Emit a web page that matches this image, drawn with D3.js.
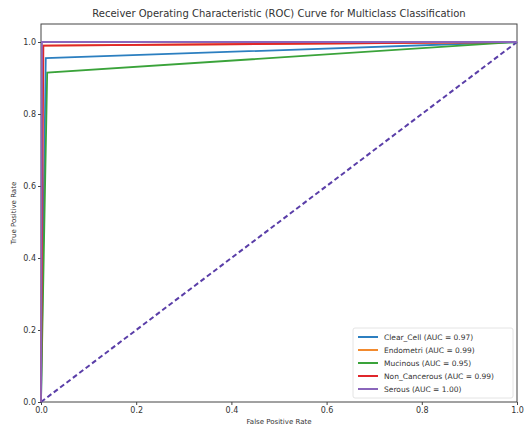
<!DOCTYPE html>
<html>
<head>
<meta charset="utf-8">
<script src="https://cdn.jsdelivr.net/npm/d3@7"></script>
<style>
  body { margin: 0; background: #fff; }
  text { font-family: "DejaVu Sans", sans-serif; fill: #333; }
</style>
</head>
<body>
<div id="chart"></div>
<script>
    var width = 524,
      height = 430,
      margin = {top: 24, bottom: 28, left: 41, right: 7};

    // ROC points per class (false positive rate, true positive rate)
    var classNames = ["Clear_Cell", "Endometri", "Mucinous", "Non_Cancerous", "Serous"];
    var aucValues = ["0.97", "0.99", "0.95", "0.99", "1.00"];
    var fprValues = [
      [0, 0.01, 1],
      [0, 0.003, 1],
      [0, 0.013, 1],
      [0, 0.005, 1],
      [0, 0.002, 1]
    ];
    var tprValues = [
      [0, 0.955, 1],
      [0, 0.99, 1],
      [0, 0.915, 1],
      [0, 0.99, 1],
      [0, 1.0, 1]
    ];
    var xTicks = [0, 0.2, 0.4, 0.6, 0.8, 1.0];
    var yTicks = [0, 0.2, 0.4, 0.6, 0.8, 1.0];

    var color = d3.scaleOrdinal()
      .domain(classNames)
      .range(['#2c7fc0', '#f28a2e', '#3aa33a', '#e0262b', '#8a66bb']);

    var svg = d3.select("#chart").append("svg")
      .attr("width", width)
      .attr("height", height);

    var x = d3.scaleLinear().domain([0, 1]).range([margin.left, width - margin.right]);
    var y = d3.scaleLinear().domain([0, 1.05]).range([height - margin.bottom, margin.top]);

    // plot frame
    svg.append("rect")
      .attr("x", margin.left)
      .attr("y", margin.top)
      .attr("width", width - margin.right - margin.left)
      .attr("height", height - margin.bottom - margin.top)
      .style("fill", "none")
      .style("stroke", "#444")
      .style("stroke-width", 1);

    var xAxis = svg.append("g")
      .attr("transform", "translate(0," + (height - margin.bottom) + ")")
      .call(d3.axisBottom(x).tickValues(xTicks).tickFormat(d3.format(".1f")).tickSize(3).tickPadding(2));
    var yAxis = svg.append("g")
      .attr("transform", "translate(" + margin.left + ",0)")
      .call(d3.axisLeft(y).tickValues(yTicks).tickFormat(d3.format(".1f")).tickSize(3).tickPadding(2));
    [xAxis, yAxis].forEach(function(g) {
      g.select(".domain").remove();
      g.selectAll("line").style("stroke", "#444");
      g.selectAll("text").style("font-size", "8px").style("fill", "#333");
    });

    var line = d3.line()
      .x(function(d) { return x(d[0]); })
      .y(function(d) { return y(d[1]); });

    // diagonal reference
    svg.append("path")
      .datum([[0, 0], [1, 1]])
      .attr("d", line)
      .style("fill", "none")
      .style("stroke", "#5a3ea8")
      .style("stroke-width", 2)
      .style("stroke-dasharray", "5,3");

    classNames.forEach(function(name, i) {
      var pts = fprValues[i].map(function(f, j) { return [f, tprValues[i][j]]; });
      svg.append("path")
        .datum(pts)
        .attr("d", line)
        .style("fill", "none")
        .style("stroke", color(name))
        .style("stroke-width", 1.8);
    });

    // title and axis labels
    svg.append("text")
      .attr("x", (margin.left + width - margin.right) / 2)
      .attr("y", 17)
      .attr("text-anchor", "middle")
      .style("font-size", "10px")
      .text("Receiver Operating Characteristic (ROC) Curve for Multiclass Classification");

    svg.append("text")
      .attr("x", (margin.left + width - margin.right) / 2)
      .attr("y", height - 6)
      .attr("text-anchor", "middle")
      .style("font-size", "7px")
      .text("False Positive Rate");

    svg.append("text")
      .attr("transform", "translate(16," + y(0.525) + ") rotate(-90)")
      .attr("text-anchor", "middle")
      .style("font-size", "7px")
      .text("True Positive Rate");

    // legend
    var legendBox = svg.append("g").attr("transform", "translate(353,328)");
    legendBox.append("rect")
      .attr("width", 160)
      .attr("height", 70)
      .attr("rx", 2)
      .style("fill", "#fff")
      .style("fill-opacity", 0.8)
      .style("stroke", "#e4e4e4");

    var legend = legendBox.selectAll(".legend")
      .data(classNames)
      .enter().append("g")
        .attr("class", "legend")
        .attr("transform", function(d, i) { return "translate(0," + (9 + i * 13) + ")"; });

    legend.append("line")
      .attr("x1", 5)
      .attr("x2", 25)
      .style("stroke", function(d) { return color(d); })
      .style("stroke-width", 2);

    legend.append("text")
      .attr("x", 31)
      .attr("dy", ".35em")
      .style("font-size", "7.5px")
      .text(function(d, i) { return d + " (AUC = " + aucValues[i] + ")"; });
</script>
</body>
</html>
